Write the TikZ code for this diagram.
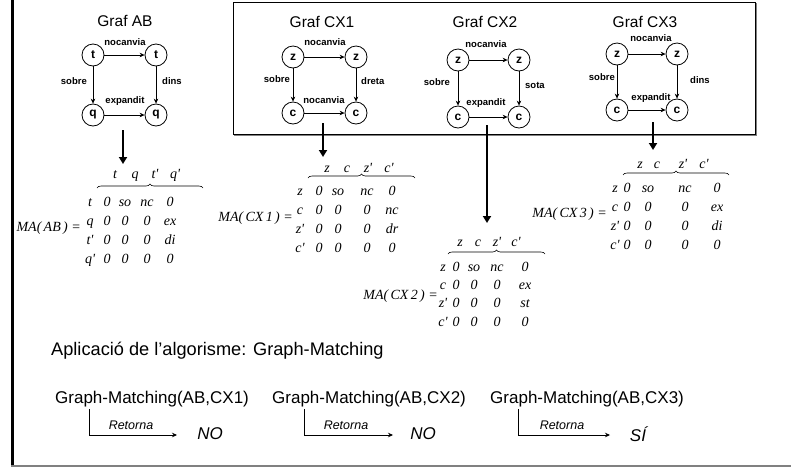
\documentclass[tikz,border=0pt]{standalone}
\usepackage{fontspec}
\setmainfont{Liberation Sans}
\newfontfamily\tnr{Liberation Serif}
\usetikzlibrary{arrows.meta,decorations.pathreplacing}

\begin{document}
\begin{tikzpicture}[x=1pt,y=-1pt,
  vtx/.style={circle,draw,line width=0.8pt,minimum size=22pt,inner sep=0pt,
    font=\fontsize{12}{12}\selectfont\bfseries},
  elab/.style={font=\fontsize{9.5}{10}\selectfont\bfseries,inner sep=1pt},
  edge/.style={-{Stealth[length=5pt,width=4.5pt]},line width=0.7pt},
  title/.style={font=\fontsize{15.5}{16}\selectfont,inner sep=0pt},
  mt/.style={font=\tnr\itshape\fontsize{14}{14}\selectfont,inner sep=0pt,anchor=base},
  brc/.style={decorate,decoration={brace,amplitude=4pt},line width=0.6pt},
  down/.style={-{Triangle[length=7pt,width=8pt]},line width=2.5pt},
  call/.style={font=\fontsize{17}{17}\selectfont,inner sep=0pt},
  ret/.style={font=\fontsize{12.5}{12}\selectfont\itshape,inner sep=0pt},
  ans/.style={font=\fontsize{17}{17}\selectfont\itshape,inner sep=0pt},
  retarrow/.style={-{Stealth[length=5pt,width=4.5pt]},line width=0.7pt}
]
\useasboundingbox (0,0) rectangle (791,467);

% page rules
\draw[line width=3pt] (12.5,0) -- (12.5,467);
\draw[gray,line width=1.5pt] (11,465.8) -- (791,465.8);

% frame around the three candidate graphs
\draw[gray,line width=1.2pt] (234,135) -- (756,135) -- (756,3);
\draw[line width=0.8pt] (233,2) rectangle (755,134);

% ---------- Graf AB ----------
\node[title] (tAB) at (125,21) {Graf AB};
\node[vtx] (ab1) at (93,55) {t};
\node[vtx] (ab2) at (156,55) {t};
\node[vtx] (ab3) at (93,115) {q};
\node[vtx] (ab4) at (156,115) {q};
\draw[edge] (ab1) -- (ab2);
\draw[edge] (ab1) -- (ab3);
\draw[edge] (ab2) -- (ab4);
\draw[edge] (ab3) -- (ab4);
\node[elab] (ab12) at (125,42) {nocanvia};
\node[elab,anchor=east] (ab13) at (88,81) {sobre};
\node[elab,anchor=west] (ab24) at (161,81) {dins};
\node[elab] (ab34) at (125,101) {expandit};

% ---------- Graf CX1 ----------
\node[title] (tCX1) at (322,22) {Graf CX1};
\node[vtx] (ca1) at (293,57) {z};
\node[vtx] (ca2) at (356,57) {z};
\node[vtx] (ca3) at (293,113) {c};
\node[vtx] (ca4) at (356,113) {c};
\draw[edge] (ca1) -- (ca2);
\draw[edge] (ca1) -- (ca3);
\draw[edge] (ca2) -- (ca4);
\draw[edge] (ca3) -- (ca4);
\node[elab] (ca12) at (325,42) {nocanvia};
\node[elab,anchor=east] (ca13) at (291,79) {sobre};
\node[elab,anchor=west] (ca24) at (360,81) {dreta};
\node[elab] (ca34) at (324,100) {nocanvia};

% ---------- Graf CX2 ----------
\node[title] (tCX2) at (485,22) {Graf CX2};
\node[vtx] (cb1) at (458,60) {z};
\node[vtx] (cb2) at (519,60) {z};
\node[vtx] (cb3) at (458,117) {c};
\node[vtx] (cb4) at (519,117) {c};
\draw[edge] (cb1) -- (cb2);
\draw[edge] (cb1) -- (cb3);
\draw[edge] (cb2) -- (cb4);
\draw[edge] (cb3) -- (cb4);
\node[elab] (cb12) at (486,44) {nocanvia};
\node[elab,anchor=east] (cb13) at (451,82) {sobre};
\node[elab,anchor=west] (cb24) at (524,85) {sota};
\node[elab] (cb34) at (486,103) {expandit};

% ---------- Graf CX3 ----------
\node[title] (tCX3) at (645,22) {Graf CX3};
\node[vtx] (cc1) at (617,54) {z};
\node[vtx] (cc2) at (677,54) {z};
\node[vtx] (cc3) at (617,110) {c};
\node[vtx] (cc4) at (677,110) {c};
\draw[edge] (cc1) -- (cc2);
\draw[edge] (cc1) -- (cc3);
\draw[edge] (cc2) -- (cc4);
\draw[edge] (cc3) -- (cc4);
\node[elab] (cc12) at (651,38) {nocanvia};
\node[elab,anchor=east] (cc13) at (616,77) {sobre};
\node[elab,anchor=west] (cc24) at (689,80) {dins};
\node[elab] (cc34) at (651,98) {expandit};

% ---------- arrows down to the adjacency matrices ----------
\coordinate (abo) at (123,130);  \coordinate (abm) at (123,164);
\coordinate (cao) at (323,123);  \coordinate (cam) at (323,157);
\coordinate (cbo) at (487,125);  \coordinate (cbm) at (487,223);
\coordinate (cco) at (653,122);  \coordinate (ccm) at (653,150);
\draw[down] (abo) -- (abm);
\draw[down] (cao) -- (cam);
\draw[down] (cbo) -- (cbm);
\draw[down] (cco) -- (ccm);

% ---------- MA(AB) ----------  (row y values are baselines)
\begin{scope}[shift={(90,206)}]
  \foreach \h/\x [count=\j] in {t/25,q/45,t'/65,q'/85}
    \node[mt] (mab-h\j) at (\x,-28) {\h};
  \draw[brc] (7,-18) -- (113,-18);
  \foreach \l/\a/\b/\c/\d [count=\i] in {t/0/so/nc/0,q/0/0/0/ex,t'/0/0/0/di,q'/0/0/0/0}{
    \node[mt] (mab-\i-0) at (0,{(\i-1)*19}) {\l};
    \node[mt] (mab-\i-1) at (17,{(\i-1)*19}) {\a};
    \node[mt] (mab-\i-2) at (35,{(\i-1)*19}) {\b};
    \node[mt] (mab-\i-3) at (57,{(\i-1)*19}) {\c};
    \node[mt] (mab-\i-4) at (80,{(\i-1)*19}) {\d};
  }
  \node[mt,anchor=base east] (mab) at (-9,25) {MA(\,AB\,) =};
\end{scope}

% ---------- MA(CX1) ----------
\begin{scope}[shift={(300,195)}]
  \foreach \h/\x [count=\j] in {z/27,c/47,z'/68,c'/89}
    \node[mt] (mca-h\j) at (\x,-23) {\h};
  \draw[brc] (8,-17) -- (115,-17);
  \foreach \l/\a/\b/\c/\d [count=\i] in {z/0/so/nc/0,c/0/0/0/nc,z'/0/0/0/dr,c'/0/0/0/0}{
    \node[mt] (mca-\i-0) at (0,{(\i-1)*19}) {\l};
    \node[mt] (mca-\i-1) at (19,{(\i-1)*19}) {\a};
    \node[mt] (mca-\i-2) at (38,{(\i-1)*19}) {\b};
    \node[mt] (mca-\i-3) at (67,{(\i-1)*19}) {\c};
    \node[mt] (mca-\i-4) at (92,{(\i-1)*19}) {\d};
  }
  \node[mt,anchor=base east] (mca) at (-7,26) {MA(\,CX\,1\,) =};
\end{scope}

% ---------- MA(CX2) ----------
\begin{scope}[shift={(443,271)}]
  \foreach \h/\x [count=\j] in {z/17,c/35,z'/54,c'/73}
    \node[mt] (mcb-h\j) at (\x,-25) {\h};
  \draw[brc] (5,-17) -- (102,-17);
  \foreach \l/\a/\b/\c/\d [count=\i] in {z/0/so/nc/0,c/0/0/0/ex,z'/0/0/0/st,c'/0/0/0/0}{
    \node[mt] (mcb-\i-0) at (0,{(\i-1)*18.4}) {\l};
    \node[mt] (mcb-\i-1) at (13,{(\i-1)*18.4}) {\a};
    \node[mt] (mcb-\i-2) at (31,{(\i-1)*18.4}) {\b};
    \node[mt] (mcb-\i-3) at (54,{(\i-1)*18.4}) {\c};
    \node[mt] (mcb-\i-4) at (82,{(\i-1)*18.4}) {\d};
  }
  \node[mt,anchor=base east] (mcb) at (-5,28) {MA(\,CX\,2\,) =};
\end{scope}

% ---------- MA(CX3) ----------
\begin{scope}[shift={(615,192)}]
  \foreach \h/\x [count=\j] in {z/25,c/42,z'/68,c'/89}
    \node[mt] (mcc-h\j) at (\x,-24) {\h};
  \draw[brc] (8,-17) -- (114,-17);
  \foreach \l/\a/\b/\c/\d [count=\i] in {z/0/so/nc/0,c/0/0/0/ex,z'/0/0/0/di,c'/0/0/0/0}{
    \node[mt] (mcc-\i-0) at (0,{(\i-1)*19.3}) {\l};
    \node[mt] (mcc-\i-1) at (12,{(\i-1)*19.3}) {\a};
    \node[mt] (mcc-\i-2) at (33,{(\i-1)*19.3}) {\b};
    \node[mt] (mcc-\i-3) at (70,{(\i-1)*19.3}) {\c};
    \node[mt] (mcc-\i-4) at (102,{(\i-1)*19.3}) {\d};
  }
  \node[mt,anchor=base east] (mcc) at (-8,25) {MA(\,CX\,3\,) =};
\end{scope}

% ---------- applying the algorithm ----------
\node[call,anchor=west,font=\fontsize{18.2}{18}\selectfont] (aplic) at (51,351) {Aplicació de l’algorisme: Graph-Matching};
\node[call,anchor=west] (gm1) at (55,399) {Graph-Matching(AB,CX1)};
\node[call,anchor=west] (gm2) at (272,399) {Graph-Matching(AB,CX2)};
\node[call,anchor=west] (gm3) at (490,399) {Graph-Matching(AB,CX3)};

\coordinate (r1s) at (89,409);  \coordinate (r1e) at (177,435);
\coordinate (r2s) at (304,409); \coordinate (r2e) at (393,435);
\coordinate (r3s) at (518,409); \coordinate (r3e) at (610,435);
\draw[retarrow] (r1s) |- (r1e);
\draw[retarrow] (r2s) |- (r2e);
\draw[retarrow] (r3s) |- (r3e);
\node[ret] (rt1) at (131,425) {Retorna};
\node[ret] (rt2) at (346,425) {Retorna};
\node[ret] (rt3) at (562,425) {Retorna};
\node[ans] (no1) at (210,434) {NO};
\node[ans] (no2) at (423,434) {NO};
\node[ans] (si3) at (638,434) {SÍ};
\end{tikzpicture}
\end{document}
